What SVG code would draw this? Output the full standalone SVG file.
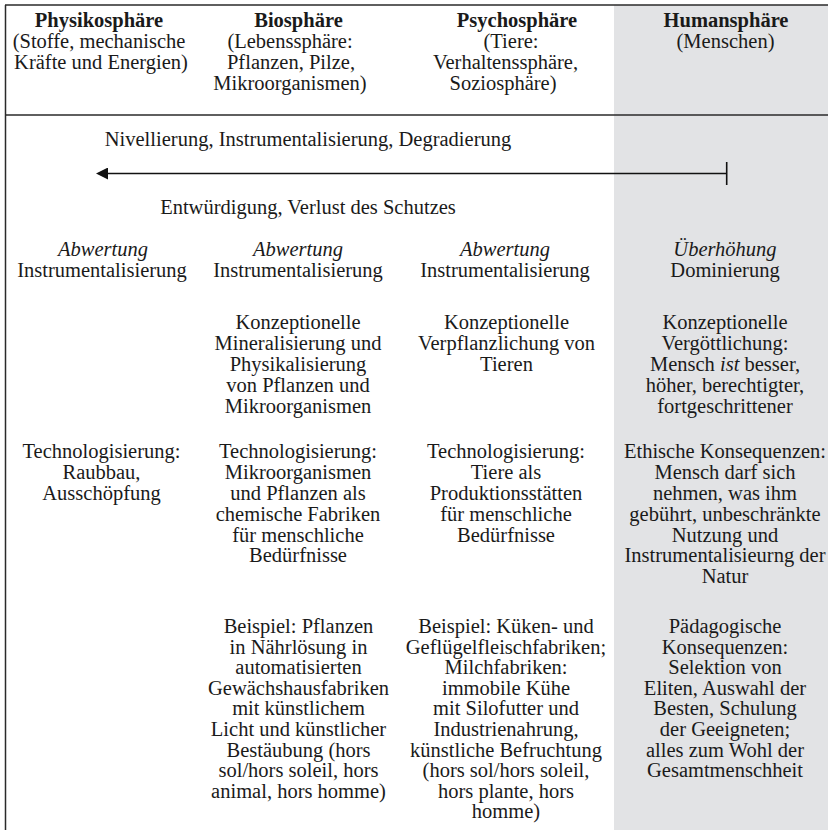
<svg xmlns="http://www.w3.org/2000/svg" width="828" height="831" viewBox="0 0 828 831">
  <defs>
    <style>
      .t { font-family: "Liberation Serif", "Times New Roman", serif; font-size: 20.5px; fill: #1a1a1a; text-anchor: middle; }
      .b { font-weight: bold; }
      .i { font-style: italic; }
      .rule { stroke: #2a2a2a; stroke-width: 1.5; fill: none; }
      .conn { stroke: #111; stroke-width: 1.6; fill: none; }
    </style>
    <marker id="arrowhead" viewBox="0 0 12 12" refX="0" refY="6" markerWidth="12" markerHeight="12" markerUnits="userSpaceOnUse" orient="auto-start-reverse">
      <path d="M0,0 L12,6 L0,12 Z" fill="#111"/>
    </marker>
  </defs>

  <!-- background / frame -->
  <rect x="0" y="0" width="828" height="831" fill="#ffffff"/>
  <rect id="human-shade" x="614" y="5" width="214" height="825" fill="#e2e3e5"/>
  <line class="rule" x1="5" y1="5" x2="828" y2="5"/>
  <line class="rule" x1="5" y1="115" x2="828" y2="115"/>
  <line class="rule" x1="5.5" y1="5" x2="5.5" y2="830"/>

  <!-- header nodes -->
  <g id="head-physikosphaere">
    <text class="t b" x="99" y="27">Physikosphäre</text>
    <text class="t" x="99" y="48">(Stoffe, mechanische</text>
    <text class="t" x="101" y="69">Kräfte und Energien)</text>
  </g>
  <g id="head-biosphaere">
    <text class="t b" x="298.5" y="27">Biosphäre</text>
    <text class="t" x="290" y="48">(Lebenssphäre:</text>
    <text class="t" x="291" y="69">Pflanzen, Pilze,</text>
    <text class="t" x="290" y="90">Mikroorganismen)</text>
  </g>
  <g id="head-psychosphaere">
    <text class="t b" x="517" y="27">Psychosphäre</text>
    <text class="t" x="511" y="48">(Tiere:</text>
    <text class="t" x="505.5" y="69">Verhaltenssphäre,</text>
    <text class="t" x="503" y="90">Soziosphäre)</text>
  </g>
  <g id="head-humansphaere">
    <text class="t b" x="726" y="27">Humansphäre</text>
    <text class="t" x="725.5" y="48">(Menschen)</text>
  </g>

  <!-- arrow labels -->
  <g id="label-nivellierung">
    <text class="t" x="308" y="146">Nivellierung, Instrumentalisierung, Degradierung</text>
  </g>
  <g id="label-entwuerdigung">
    <text class="t" x="308" y="214">Entwürdigung, Verlust des Schutzes</text>
  </g>

  <!-- connectors -->
  <g id="connectors">
    <line class="conn" x1="726.7" y1="173.5" x2="108" y2="173.5" marker-end="url(#arrowhead)"/>
    <line class="conn" x1="726.7" y1="162" x2="726.7" y2="185"/>
  </g>

  <!-- Abwertung row -->
  <g id="val-physiko">
    <text class="t i" x="103" y="256">Abwertung</text>
    <text class="t" x="102" y="277">Instrumentalisierung</text>
  </g>
  <g id="val-bio">
    <text class="t i" x="298" y="256">Abwertung</text>
    <text class="t" x="298" y="277">Instrumentalisierung</text>
  </g>
  <g id="val-psycho">
    <text class="t i" x="505" y="256">Abwertung</text>
    <text class="t" x="505" y="277">Instrumentalisierung</text>
  </g>
  <g id="val-human">
    <text class="t i" x="725" y="256">Überhöhung</text>
    <text class="t" x="725" y="277">Dominierung</text>
  </g>

  <!-- Konzeptionelle row -->
  <g id="konz-bio">
    <text class="t" x="298" y="329">Konzeptionelle</text>
    <text class="t" x="298" y="350">Mineralisierung und</text>
    <text class="t" x="298" y="371">Physikalisierung</text>
    <text class="t" x="298" y="392">von Pflanzen und</text>
    <text class="t" x="298" y="413">Mikroorganismen</text>
  </g>
  <g id="konz-psycho">
    <text class="t" x="506.5" y="329">Konzeptionelle</text>
    <text class="t" x="506.5" y="350">Verpflanzlichung von</text>
    <text class="t" x="506.5" y="371">Tieren</text>
  </g>
  <g id="konz-human">
    <text class="t" x="725" y="329">Konzeptionelle</text>
    <text class="t" x="725" y="350">Vergöttlichung:</text>
    <text class="t" x="725" y="371">Mensch <tspan class="i">ist</tspan> besser,</text>
    <text class="t" x="725" y="392">höher, berechtigter,</text>
    <text class="t" x="725" y="413">fortgeschrittener</text>
  </g>

  <!-- Technologisierung row -->
  <g id="tech-physiko">
    <text class="t" x="101.5" y="458">Technologisierung:</text>
    <text class="t" x="101.5" y="479">Raubbau,</text>
    <text class="t" x="101.5" y="499.5">Ausschöpfung</text>
  </g>
  <g id="tech-bio">
    <text class="t" x="298" y="458">Technologisierung:</text>
    <text class="t" x="298" y="479">Mikroorganismen</text>
    <text class="t" x="298" y="499.5">und Pflanzen als</text>
    <text class="t" x="298" y="520.5">chemische Fabriken</text>
    <text class="t" x="298" y="541.5">für menschliche</text>
    <text class="t" x="298" y="562">Bedürfnisse</text>
  </g>
  <g id="tech-psycho">
    <text class="t" x="506" y="458">Technologisierung:</text>
    <text class="t" x="506" y="479">Tiere als</text>
    <text class="t" x="506" y="499.5">Produktionsstätten</text>
    <text class="t" x="506" y="520.5">für menschliche</text>
    <text class="t" x="506" y="541.5">Bedürfnisse</text>
  </g>
  <g id="ethik-human">
    <text class="t" x="725" y="458">Ethische Konsequenzen:</text>
    <text class="t" x="725" y="479">Mensch darf sich</text>
    <text class="t" x="725" y="499.5">nehmen, was ihm</text>
    <text class="t" x="725" y="520.5">gebührt, unbeschränkte</text>
    <text class="t" x="725" y="541.5">Nutzung und</text>
    <text class="t" x="725" y="562">Instrumentalisieurng der</text>
    <text class="t" x="725" y="583">Natur</text>
  </g>

  <!-- Beispiel row -->
  <g id="bsp-bio">
    <text class="t" x="298.5" y="633">Beispiel: Pflanzen</text>
    <text class="t" x="298.5" y="653.6">in Nährlösung in</text>
    <text class="t" x="298.5" y="674.2">automatisierten</text>
    <text class="t" x="298.5" y="694.8">Gewächshausfabriken</text>
    <text class="t" x="298.5" y="715.4">mit künstlichem</text>
    <text class="t" x="298.5" y="736">Licht und künstlicher</text>
    <text class="t" x="298.5" y="756.6">Bestäubung (hors</text>
    <text class="t" x="298.5" y="777.2">sol/hors soleil, hors</text>
    <text class="t" x="298.5" y="797.8">animal, hors homme)</text>
  </g>
  <g id="bsp-psycho">
    <text class="t" x="506" y="633">Beispiel: Küken- und</text>
    <text class="t" x="506" y="653.6">Geflügelfleischfabriken;</text>
    <text class="t" x="506" y="674.2">Milchfabriken:</text>
    <text class="t" x="506" y="694.8">immobile Kühe</text>
    <text class="t" x="506" y="715.4">mit Silofutter und</text>
    <text class="t" x="506" y="736">Industrienahrung,</text>
    <text class="t" x="506" y="756.6">künstliche Befruchtung</text>
    <text class="t" x="506" y="777.2">(hors sol/hors soleil,</text>
    <text class="t" x="506" y="797.8">hors plante, hors</text>
    <text class="t" x="506" y="818.4">homme)</text>
  </g>
  <g id="paed-human">
    <text class="t" x="725" y="633">Pädagogische</text>
    <text class="t" x="725" y="653.6">Konsequenzen:</text>
    <text class="t" x="725" y="674.2">Selektion von</text>
    <text class="t" x="725" y="694.8">Eliten, Auswahl der</text>
    <text class="t" x="725" y="715.4">Besten, Schulung</text>
    <text class="t" x="725" y="736">der Geeigneten;</text>
    <text class="t" x="725" y="756.6">alles zum Wohl der</text>
    <text class="t" x="725" y="777.2">Gesamtmenschheit</text>
  </g>
</svg>
